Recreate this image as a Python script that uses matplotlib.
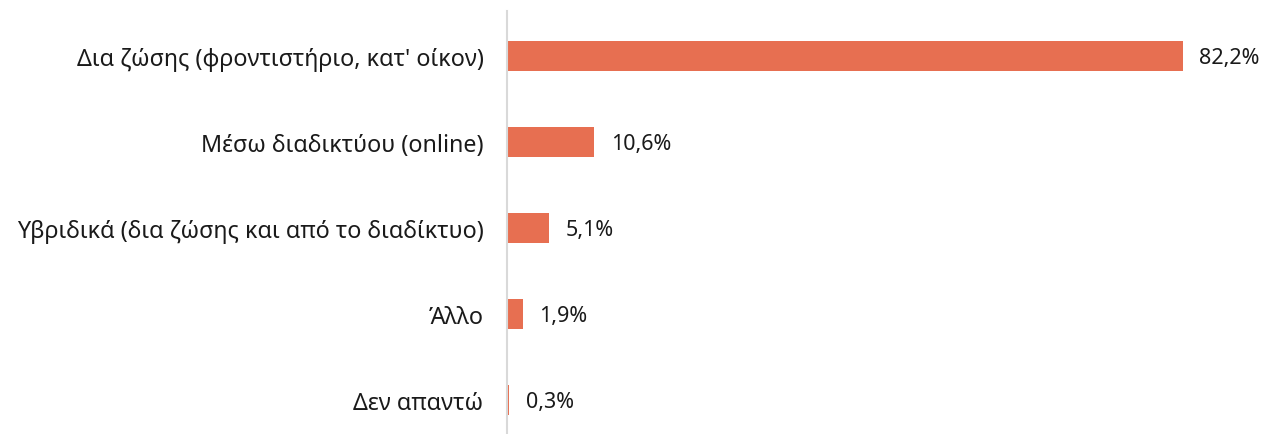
import matplotlib
matplotlib.use("Agg")
from matplotlib import pyplot as plt

categories = ["Δια ζώσης (φροντιστήριο, κατ' οίκον)",
              "Μέσω διαδικτύου (online)",
              "Υβριδικά (δια ζώσης και από το διαδίκτυο)",
              "Άλλο",
              "Δεν απαντώ"]
values = [82.2, 10.6, 5.1, 1.9, 0.3]
value_labels = ["82,2%", "10,6%", "5,1%", "1,9%", "0,3%"]

plt.rcParams["font.family"] = ["Noto Sans", "DejaVu Sans"]

fig = plt.figure(figsize=(12.66, 4.35), dpi=100)
ax = fig.add_axes([507 / 1266, 0, 740 / 1266, 423 / 435])

pos = list(range(len(categories)))
ax.barh(pos, values, height=0.348, color="#E76F51")
for p, v, lab in zip(pos, values, value_labels):
    ax.text(v + 2.0, p + 0.02, lab, va="center", ha="left", fontsize=15.5, color="#1a1a1a")

ax.set_xlim(0, 90)
ax.set_ylim(4.394, -0.518)
ax.set_yticks(pos)
ax.set_yticklabels(categories, fontsize=16.8, color="#1a1a1a")
ax.tick_params(axis="y", length=0, pad=17)
ax.set_xticks([])
for s in ["top", "right", "bottom"]:
    ax.spines[s].set_visible(False)
ax.spines["left"].set_color("#d9d9d9")
ax.spines["left"].set_linewidth(1.5)

fig.savefig("out.png", dpi=100)
